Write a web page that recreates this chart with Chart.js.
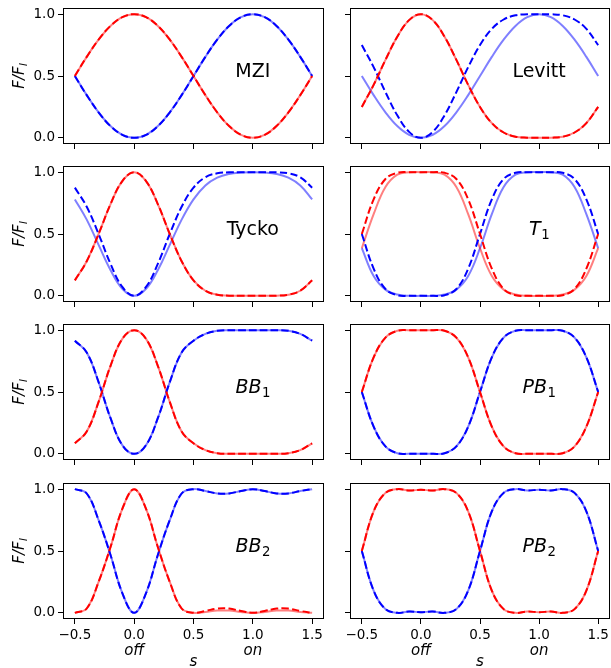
<!DOCTYPE html>
<html>
<head>
<meta charset="utf-8">
<script src="https://cdn.jsdelivr.net/npm/chart.js@4.4.0/dist/chart.umd.min.js"></script>
<style>
  body { margin: 0; background: #fff; }
  #wrap { position: relative; width: 611px; height: 668px; overflow: hidden; background: #fff; }
  #wrap canvas { position: absolute; }
</style>
</head>
<body>
<div id="wrap"></div>
<script>
// pulse strength s (x axis) and ticks
const sValues = [-0.5, -0.4, -0.3, -0.2, -0.1, 0, 0.1, 0.2, 0.3, 0.4, 0.5, 0.6, 0.7, 0.8, 0.9, 1, 1.1, 1.2, 1.3, 1.4, 1.5];
const xTickValues = [-0.5, 0, 0.5, 1, 1.5];
const xTickLabels = ['\u22120.5', '0.0', '0.5', '1.0', '1.5'];
const yTickValues = [0, 0.5, 1];
const yTickLabels = ['0.0', '0.5', '1.0'];
const stateValues = [0, 1];
const stateLabels = ['off', 'on'];

// F/F_I
const mziRed  = [0.5, 0.655, 0.794, 0.905, 0.976, 1, 0.976, 0.905, 0.794, 0.655, 0.5, 0.345, 0.206, 0.095, 0.024, 0, 0.024, 0.095, 0.206, 0.345, 0.5];
const mziBlue = [0.5, 0.345, 0.206, 0.095, 0.024, 0, 0.024, 0.095, 0.206, 0.345, 0.5, 0.655, 0.794, 0.905, 0.976, 1, 0.976, 0.905, 0.794, 0.655, 0.5];

const levittRed       = [0.25, 0.428, 0.63, 0.818, 0.952, 1, 0.952, 0.818, 0.63, 0.428, 0.25, 0.119, 0.043, 0.009, 0.001, 0, 0.001, 0.009, 0.043, 0.119, 0.25];
const levittBlue      = [0.75, 0.572, 0.37, 0.182, 0.048, 0, 0.048, 0.182, 0.37, 0.572, 0.75, 0.881, 0.957, 0.991, 0.999, 1, 0.999, 0.991, 0.957, 0.881, 0.75];
const levittBlueSolid = [0.5, 0.345, 0.206, 0.095, 0.024, 0, 0.024, 0.095, 0.206, 0.345, 0.5, 0.655, 0.794, 0.905, 0.976, 1, 0.976, 0.905, 0.794, 0.655, 0.5];

const tyckoRed       = [0.125, 0.28, 0.5, 0.74, 0.928, 1, 0.928, 0.74, 0.5, 0.28, 0.125, 0.041, 0.009, 0.001, 0, 0, 0, 0.001, 0.009, 0.041, 0.125];
const tyckoBlue      = [0.875, 0.72, 0.5, 0.26, 0.072, 0, 0.072, 0.26, 0.5, 0.72, 0.875, 0.959, 0.991, 0.999, 1, 1, 1, 0.999, 0.991, 0.959, 0.875];
const tyckoBlueSolid = [0.78, 0.616, 0.412, 0.209, 0.057, 0, 0.057, 0.209, 0.412, 0.616, 0.78, 0.893, 0.956, 0.986, 0.997, 1, 0.997, 0.986, 0.956, 0.893, 0.78];

const t1Red       = [0.5, 0.78, 0.945, 0.995, 1, 1, 1, 0.995, 0.945, 0.78, 0.5, 0.22, 0.055, 0.005, 0, 0, 0, 0.005, 0.055, 0.22, 0.5];
const t1RedSolid  = [0.385, 0.66, 0.88, 0.98, 1, 1, 1, 0.98, 0.88, 0.66, 0.385, 0.16, 0.05, 0.01, 0, 0, 0, 0.01, 0.05, 0.16, 0.385];
const t1Blue      = [0.5, 0.22, 0.055, 0.005, 0, 0, 0, 0.005, 0.055, 0.22, 0.5, 0.78, 0.945, 0.995, 1, 1, 1, 0.995, 0.945, 0.78, 0.5];
const t1BlueSolid = [0.385, 0.16, 0.05, 0.01, 0, 0, 0, 0.01, 0.05, 0.16, 0.385, 0.66, 0.88, 0.98, 1, 1, 1, 0.98, 0.88, 0.66, 0.385];

const bb1Red  = [0.085, 0.18, 0.42, 0.71, 0.93, 1, 0.93, 0.71, 0.42, 0.18, 0.085, 0.03, 0.005, 0, 0, 0, 0, 0, 0.005, 0.03, 0.085];
const bb1Blue = [0.915, 0.82, 0.58, 0.29, 0.07, 0, 0.07, 0.29, 0.58, 0.82, 0.915, 0.97, 0.995, 1, 1, 1, 1, 1, 0.995, 0.97, 0.915];

const pb1Red  = [0.5, 0.78, 0.94, 0.995, 1, 1, 1, 0.995, 0.94, 0.78, 0.5, 0.22, 0.06, 0.005, 0, 0, 0, 0.005, 0.06, 0.22, 0.5];
const pb1Blue = [0.5, 0.22, 0.06, 0.005, 0, 0, 0, 0.005, 0.06, 0.22, 0.5, 0.78, 0.94, 0.995, 1, 1, 1, 0.995, 0.94, 0.78, 0.5];

const bb2Red      = [0, 0.035, 0.25, 0.53, 0.84, 1, 0.84, 0.53, 0.25, 0.035, 0, 0.015, 0.034, 0.034, 0.015, 0, 0.015, 0.034, 0.034, 0.015, 0];
const bb2RedSolid = [0, 0.035, 0.25, 0.53, 0.84, 1, 0.84, 0.53, 0.25, 0.035, 0, 0.007, 0.018, 0.018, 0.007, 0, 0.007, 0.018, 0.018, 0.007, 0];
const bb2Blue     = [1, 0.965, 0.75, 0.47, 0.16, 0, 0.16, 0.47, 0.75, 0.965, 1, 0.985, 0.966, 0.966, 0.985, 1, 0.985, 0.966, 0.966, 0.985, 1];

const pb2Red  = [0.5, 0.82, 0.97, 1, 0.99, 0.995, 0.99, 1, 0.97, 0.82, 0.5, 0.18, 0.03, 0, 0.01, 0.005, 0.01, 0, 0.03, 0.18, 0.5];
const pb2Blue = [0.5, 0.18, 0.03, 0, 0.01, 0.005, 0.01, 0, 0.03, 0.18, 0.5, 0.82, 0.97, 1, 0.99, 0.995, 0.99, 1, 0.97, 0.82, 0.5];

// colours
const RED = '#ff0000';
const RED_LIGHT = 'rgba(255,0,0,0.5)';
const BLUE = '#0000ff';
const BLUE_LIGHT = 'rgba(0,0,255,0.5)';
const FONT = '"DejaVu Sans", sans-serif';

// panels, row by row
const panels = [
    { name: 'MZI',    sub: '',  italic: false, solid: [[mziRed, RED_LIGHT], [mziBlue, BLUE_LIGHT]], dashed: [[mziRed, RED], [mziBlue, BLUE]] },
    { name: 'Levitt', sub: '',  italic: false, solid: [[levittRed, RED_LIGHT], [levittBlueSolid, BLUE_LIGHT]], dashed: [[levittRed, RED], [levittBlue, BLUE]] },
    { name: 'Tycko',  sub: '',  italic: false, solid: [[tyckoRed, RED_LIGHT], [tyckoBlueSolid, BLUE_LIGHT]], dashed: [[tyckoRed, RED], [tyckoBlue, BLUE]] },
    { name: 'T',      sub: '1', italic: true,  solid: [[t1RedSolid, RED_LIGHT], [t1BlueSolid, BLUE_LIGHT]], dashed: [[t1Red, RED], [t1Blue, BLUE]] },
    { name: 'BB',     sub: '1', italic: true,  solid: [[bb1Red, RED_LIGHT], [bb1Blue, BLUE_LIGHT]], dashed: [[bb1Red, RED], [bb1Blue, BLUE]] },
    { name: 'PB',     sub: '1', italic: true,  solid: [[pb1Red, RED_LIGHT], [pb1Blue, BLUE_LIGHT]], dashed: [[pb1Red, RED], [pb1Blue, BLUE]] },
    { name: 'BB',     sub: '2', italic: true,  solid: [[bb2RedSolid, RED_LIGHT], [bb2Blue, BLUE_LIGHT]], dashed: [[bb2Red, RED], [bb2Blue, BLUE]] },
    { name: 'PB',     sub: '2', italic: true,  solid: [[pb2Red, RED_LIGHT], [pb2Blue, BLUE_LIGHT]], dashed: [[pb2Red, RED], [pb2Blue, BLUE]] }
];

// page layout (pixels)
const colLeft = [0, 330];
const colWidth = [330, 281];
const areaLeft = [63, 350];
const areaRight = [324, 610];
const rowTop = [8, 166, 324, 483];
const rowBottom = [144, 302, 460, 619];

// text with a subscript, centred on cx, baseline at base
function drawSubText(ctx, main, sub, cx, base, size, italic, subItalic) {
    const mainFont = (italic ? 'italic ' : '') + size + 'px ' + FONT;
    const subSize = size * 0.7;
    const subFont = (subItalic ? 'italic ' : '') + subSize + 'px ' + FONT;
    ctx.font = mainFont;
    const w1 = ctx.measureText(main).width;
    ctx.font = subFont;
    const w2 = sub ? ctx.measureText(sub).width : 0;
    const x0 = cx - (w1 + w2) / 2;
    ctx.fillStyle = '#000';
    ctx.textAlign = 'left';
    ctx.textBaseline = 'alphabetic';
    ctx.font = mainFont;
    ctx.fillText(main, x0, base);
    if (sub) {
        ctx.font = subFont;
        ctx.fillText(sub, x0 + w1 + (italic ? 0.5 : 0), base + size * 0.22);
    }
}

function toPoints(arr) {
    return sValues.map((s, i) => ({ x: s, y: arr[i] }));
}

const wrap = document.getElementById('wrap');

panels.forEach(function(panel, idx) {
    const col = idx % 2;
    const row = Math.floor(idx / 2);
    const isBottom = row === 3;
    const top = rowTop[row] - 8;
    const bottom = isBottom ? 668 : rowBottom[row] + 12;

    // canvas
    const canvas = document.createElement('canvas');
    canvas.width = colWidth[col];
    canvas.height = bottom - top;
    canvas.style.left = colLeft[col] + 'px';
    canvas.style.top = top + 'px';
    wrap.appendChild(canvas);

    const datasets = [];
    panel.dashed.forEach(function(d) {
        datasets.push({ data: toPoints(d[0]), borderColor: d[1], borderDash: [7.5, 3.2], order: 0 });
    });
    panel.solid.forEach(function(d) {
        datasets.push({ data: toPoints(d[0]), borderColor: d[1], order: 1 });
    });

    // frame, panel name, axis labels
    const textPlugin = {
        id: 'panelText' + idx,
        afterDatasetsDraw(chart) {
            const ctx = chart.ctx;
            const area = chart.chartArea;
            const xs = chart.scales.x;
            const ys = chart.scales.y;
            ctx.save();
            ctx.strokeStyle = '#000';
            ctx.lineWidth = 1;
            ctx.strokeRect(area.left + 0.5, area.top + 0.5, area.right - area.left - 1, area.bottom - area.top - 1);

            const size = 19;
            drawSubText(ctx, panel.name, panel.sub, xs.getPixelForValue(1.0),
                ys.getPixelForValue(0.55) + size * 0.365, size, panel.italic, false);

            if (col === 0) {
                ctx.save();
                ctx.translate(23.5, (area.top + area.bottom) / 2);
                ctx.rotate(-Math.PI / 2);
                drawSubText(ctx, 'F/F', 'I', 0, 0, 15, true, true);
                ctx.restore();
            }
            if (isBottom) {
                ctx.font = 'italic 15px ' + FONT;
                ctx.fillStyle = '#000';
                ctx.textAlign = 'center';
                ctx.textBaseline = 'alphabetic';
                stateValues.forEach(function(v, i) {
                    ctx.fillText(stateLabels[i], xs.getPixelForValue(v), area.bottom + 36);
                });
                ctx.fillText('s', (area.left + area.right) / 2, area.bottom + 47);
            }
            ctx.restore();
        }
    };

    new Chart(canvas.getContext('2d'), {
        type: 'line',
        data: { datasets: datasets },
        options: {
            responsive: false,
            animation: false,
            layout: { padding: { top: 8, left: 0, bottom: 0, right: colLeft[col] + colWidth[col] - areaRight[col] } },
            plugins: { legend: { display: false }, tooltip: { enabled: false } },
            elements: {
                point: { radius: 0 },
                line: { borderWidth: 2, tension: 0.4, fill: false }
            },
            scales: {
                x: {
                    type: 'linear',
                    min: -0.6,
                    max: 1.6,
                    afterBuildTicks: function(axis) { axis.ticks = xTickValues.map(v => ({ value: v })); },
                    afterFit: function(scale) {
                        scale.height = bottom - rowBottom[row];
                        scale.paddingLeft = 0;
                        scale.paddingRight = 0;
                    },
                    grid: { drawOnChartArea: false, drawTicks: true, tickLength: 5, color: '#000', lineWidth: 1 },
                    border: { display: false },
                    ticks: {
                        autoSkip: false,
                        maxRotation: 0,
                        padding: 3,
                        color: '#000',
                        font: { family: FONT, size: 13.5 },
                        callback: function(value, index) { return isBottom ? xTickLabels[index] : ''; }
                    }
                },
                y: {
                    type: 'linear',
                    min: -0.05,
                    max: 1.05,
                    afterBuildTicks: function(axis) { axis.ticks = yTickValues.map(v => ({ value: v })); },
                    afterFit: function(scale) {
                        scale.width = areaLeft[col] - colLeft[col];
                        scale.paddingTop = 0;
                        scale.paddingBottom = 0;
                    },
                    grid: { drawOnChartArea: false, drawTicks: true, tickLength: 5, color: '#000', lineWidth: 1 },
                    border: { display: false },
                    ticks: {
                        padding: 3,
                        color: '#000',
                        font: { family: FONT, size: 13.5 },
                        callback: function(value, index) { return col === 0 ? yTickLabels[index] : ''; }
                    }
                }
            }
        },
        plugins: [textPlugin]
    });
});
</script>
</body>
</html>
